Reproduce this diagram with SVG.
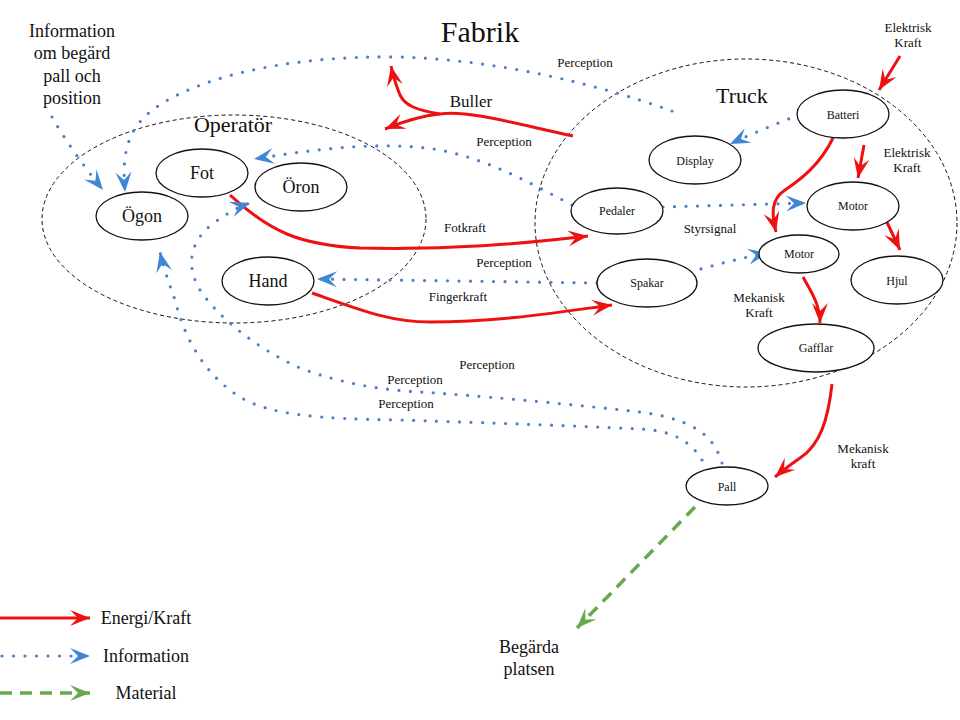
<svg xmlns="http://www.w3.org/2000/svg" width="960" height="720" viewBox="0 0 960 720" font-family="'Liberation Serif', 'DejaVu Serif', 'Times New Roman', serif">
<defs>
<style>
text{fill:#111;text-anchor:middle}
.node{fill:#fff;stroke:#111;stroke-width:1.3}
.bound{fill:none;stroke:#111;stroke-width:1;stroke-dasharray:4 3}
.red{fill:none;stroke:#ee1111;stroke-width:3;marker-end:url(#ar)}
.blue{fill:none;stroke:#4a80c4;stroke-width:3.2;stroke-linecap:round;stroke-dasharray:0 11.5;marker-end:url(#ab)}
.green{fill:none;stroke:#6aa84f;stroke-width:3.5;stroke-dasharray:12 8;marker-end:url(#ag)}
.s12{font-size:12px}.s13{font-size:13px}.s17{font-size:17px}.s18{font-size:18px}
</style>
<marker id="ar" markerUnits="userSpaceOnUse" viewBox="-22 -10 24 20" refX="0" refY="0" markerWidth="24" markerHeight="20" orient="auto"><path d="M0,0 L-20,-8 L-12,0 L-20,8 Z" fill="#ee1111"/></marker>
<marker id="ab" markerUnits="userSpaceOnUse" viewBox="-22 -10 24 20" refX="0" refY="0" markerWidth="24" markerHeight="20" orient="auto"><path d="M0,0 L-20,-8 L-12,0 L-20,8 Z" fill="#3f86d4"/></marker>
<marker id="ag" markerUnits="userSpaceOnUse" viewBox="-22 -10 24 20" refX="0" refY="0" markerWidth="24" markerHeight="20" orient="auto"><path d="M0,0 L-20,-8 L-12,0 L-20,8 Z" fill="#6aa84f"/></marker>
</defs>
<rect width="960" height="720" fill="#fff"/>

<g id="boundaries">
<ellipse class="bound" cx="234" cy="219" rx="192" ry="104"/>
<ellipse class="bound" cx="746" cy="223" rx="211" ry="164"/>
</g>

<g id="titles">
<text x="480" y="42" style="font-size:30px">Fabrik</text>
<text x="233" y="132" style="font-size:22px">Operatör</text>
<text x="742" y="103" style="font-size:22px">Truck</text>
</g>

<g id="connectors">
<path class="red" d="M573,136 C520,125 470,110 440,114 C420,116 402,122 385,129"/>
<path class="red" d="M440,114 C415,110 405,105 400,95 C396,85 393,76 391,66"/>
<path class="red" d="M230,195 C270,232 300,245 360,248 C450,250 520,244 588,236"/>
<path class="red" d="M312,293 C360,310 390,322 430,322 C500,322 560,312 612,305"/>
<path class="red" d="M833,138 C820,165 800,180 785,190 C770,200 772,215 776,232"/>
<path class="red" d="M864,145 L858,178"/>
<path class="red" d="M885,218 L900,250"/>
<path class="red" d="M803,277 C812,293 820,305 820,323"/>
<path class="red" d="M832,384 C828,420 820,445 800,458 C790,465 783,470 775,477"/>
<path class="red" d="M900,56 L879,90"/>

<path class="blue" d="M672,111 C600,85 500,60 400,57 C280,55 190,80 150,112 C122,135 123,165 125,192"/>
<path class="blue" d="M52,117 C65,140 85,168 103,190"/>
<path class="blue" d="M572,205 C530,183 490,160 440,150 C380,140 310,150 254,159"/>
<path class="blue" d="M597,283 L317,279"/>
<path class="blue" d="M690,272 C715,265 740,258 768,253"/>
<path class="blue" d="M663,207 L806,203"/>
<path class="blue" d="M810,111 C790,118 760,130 730,144"/>
<path class="blue" d="M722,463 C715,440 700,420 640,412 C560,403 470,395 420,392 C380,390 340,383 300,368 C260,350 220,320 200,290 C185,265 190,240 215,222 C228,213 238,207 250,203"/>
<path class="blue" d="M702,460 C690,440 670,430 640,429 C560,425 460,422 400,420 C320,419 270,415 240,397 C205,375 185,340 175,300 C168,280 163,266 160,252"/>

<path class="green" d="M695,507 L577,628"/>
</g>

<g id="labels">
<text class="s18" x="72" y="37">Information</text>
<text class="s18" x="72" y="59">om begärd</text>
<text class="s18" x="72" y="82">pall och</text>
<text class="s18" x="72" y="104">position</text>
<text class="s13" x="585" y="67">Perception</text>
<text class="s17" x="471" y="107">Buller</text>
<text class="s13" x="504" y="146">Perception</text>
<text class="s13" x="465" y="232">Fotkraft</text>
<text class="s13" x="710" y="233">Styrsignal</text>
<text class="s13" x="504" y="267">Perception</text>
<text class="s13" x="458" y="301">Fingerkraft</text>
<text class="s13" x="759" y="302">Mekanisk</text>
<text class="s13" x="759" y="317">Kraft</text>
<text class="s13" x="487" y="369">Perception</text>
<text class="s13" x="415" y="384">Perception</text>
<text class="s13" x="406" y="408">Perception</text>
<text class="s13" x="908" y="32">Elektrisk</text>
<text class="s13" x="908" y="47">Kraft</text>
<text class="s13" x="907" y="157">Elektrisk</text>
<text class="s13" x="907" y="172">Kraft</text>
<text class="s13" x="863" y="453">Mekanisk</text>
<text class="s13" x="863" y="468">kraft</text>
<text class="s18" x="529" y="653">Begärda</text>
<text class="s18" x="529" y="675">platsen</text>
</g>

<g id="n-ogon"><ellipse class="node" cx="142" cy="216" rx="46" ry="24"/><text class="s18" x="142" y="222">Ögon</text></g>
<g id="n-fot"><ellipse class="node" cx="202" cy="173" rx="46" ry="24"/><text class="s18" x="202" y="179">Fot</text></g>
<g id="n-oron"><ellipse class="node" cx="301" cy="187" rx="46" ry="24"/><text class="s18" x="301" y="193">Öron</text></g>
<g id="n-hand"><ellipse class="node" cx="268" cy="281" rx="46" ry="24"/><text class="s18" x="268" y="287">Hand</text></g>
<g id="n-pedaler"><ellipse class="node" cx="617" cy="211" rx="46" ry="23"/><text class="s12" x="617" y="215">Pedaler</text></g>
<g id="n-spakar"><ellipse class="node" cx="647" cy="283" rx="50" ry="24"/><text class="s12" x="647" y="287">Spakar</text></g>
<g id="n-display"><ellipse class="node" cx="695" cy="160" rx="46" ry="24"/><text class="s12" x="695" y="165">Display</text></g>
<g id="n-batteri"><ellipse class="node" cx="843" cy="114" rx="46" ry="24"/><text class="s12" x="843" y="119">Batteri</text></g>
<g id="n-motor1"><ellipse class="node" cx="853" cy="206" rx="46" ry="24"/><text class="s12" x="853" y="210">Motor</text></g>
<g id="n-motor2"><ellipse class="node" cx="799" cy="254" rx="40" ry="19"/><text class="s12" x="799" y="258">Motor</text></g>
<g id="n-hjul"><ellipse class="node" cx="897" cy="280" rx="46" ry="24"/><text class="s12" x="897" y="285">Hjul</text></g>
<g id="n-gafflar"><ellipse class="node" cx="816" cy="348" rx="58" ry="24"/><text class="s12" x="816" y="352">Gafflar</text></g>
<g id="n-pall"><ellipse class="node" cx="727" cy="486" rx="41" ry="19"/><text class="s12" x="727" y="491">Pall</text></g>

<g id="legend">
<path class="red" d="M0,618 L90,618"/>
<path class="blue" d="M2,656 L90,656"/>
<path class="green" d="M0,693 L90,693"/>
<text class="s18" x="146" y="624">Energi/Kraft</text>
<text class="s18" x="146" y="662">Information</text>
<text class="s18" x="146" y="699">Material</text>
</g>
</svg>
